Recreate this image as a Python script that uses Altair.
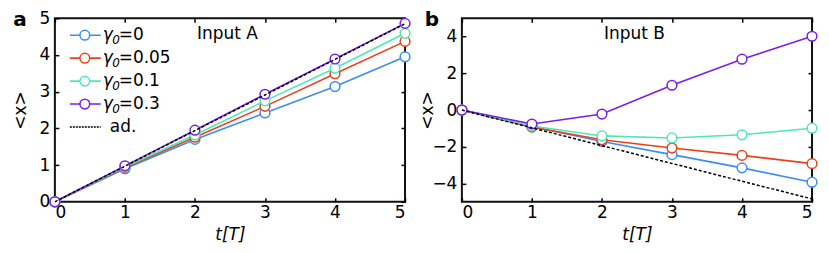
import altair as alt
import pandas as pd

# ---- data ----
t = [0, 1, 2, 3, 4, 5]
series = ["g0", "g005", "g01", "g03"]
series_colors = ["#3d8ef0", "#e8421a", "#4de8b4", "#7a1ee8"]

a_g0 = [0, 0.90, 1.70, 2.42, 3.14, 3.95]
a_g005 = [0, 0.93, 1.76, 2.60, 3.49, 4.37]
a_g01 = [0, 0.95, 1.82, 2.75, 3.64, 4.59]
a_g03 = [0, 0.98, 1.95, 2.93, 3.89, 4.86]
a_ad = [0, 0.97, 1.94, 2.91, 3.88, 4.85]

b_g0 = [0, -0.90, -1.71, -2.43, -3.15, -3.93]
b_g005 = [0, -0.93, -1.62, -2.07, -2.47, -2.92]
b_g01 = [0, -0.87, -1.41, -1.52, -1.35, -0.99]
b_g03 = [0, -0.76, -0.22, 1.35, 2.77, 4.02]
b_ad = [0, -0.97, -1.94, -2.91, -3.88, -4.84]

legend_series = ["g0", "g005", "g01", "g03", "ad"]
legend_rest = ["=0", "=0.05", "=0.1", "=0.3", "ad."]

FONT = "DejaVu Sans"
FS = 17


def long_df(vals):
    rows = []
    for s, v in zip(series, vals):
        for ti, vi in zip(t, v):
            rows.append({"t": ti, "val": vi, "series": s})
    return pd.DataFrame(rows)


color_scale = alt.Scale(domain=legend_series, range=series_colors + ["black"])


def panel(vals, ad, ydomain, yticks, plabel, ilabel, plabel_x, with_legend):
    df = long_df(vals)
    addf = pd.DataFrame({"t": t, "val": ad})
    xs = alt.Scale(domain=[0, 5], nice=False)
    ys = alt.Scale(domain=ydomain, nice=False)

    x_bottom = alt.Axis(orient="bottom", values=t, tickSize=4, offset=-4, domain=False,
                        tickColor="black", tickWidth=1.5, labelFontSize=FS, labelPadding=3,
                        labelFont=FONT, labelColor="black", title="t[T]", titleFont=FONT,
                        titleFontSize=FS, titleFontStyle="italic", titleFontWeight="normal",
                        titleColor="black", titleY=37, titleBaseline="middle", grid=False)
    y_left = alt.Axis(orient="left", values=yticks, tickSize=4, offset=-4, domain=False,
                      tickColor="black", tickWidth=1.5, labelFontSize=FS, labelPadding=5,
                      labelFont=FONT, labelColor="black", title="<x>", titleFont=FONT,
                      titleFontSize=FS, titleFontWeight="normal", titleColor="black",
                      titleX=-38, titleY=92, titleBaseline="middle", grid=False)
    x_top = alt.Axis(orient="top", values=t, tickSize=4, offset=-4, domain=False,
                     tickColor="black", tickWidth=1.5, labels=False, title=None, grid=False)
    y_right = alt.Axis(orient="right", values=yticks, tickSize=4, offset=-4, domain=False,
                       tickColor="black", tickWidth=1.5, labels=False, title=None, grid=False)

    lines = alt.Chart(df).mark_line(strokeWidth=1.6).encode(
        x=alt.X("t:Q", scale=xs, axis=x_bottom),
        y=alt.Y("val:Q", scale=ys, axis=y_left),
        color=alt.Color("series:N", scale=color_scale, legend=None),
        detail="series:N",
    )
    points = alt.Chart(df).mark_point(shape="circle", size=95, filled=False, fill="white",
                                      fillOpacity=1, strokeWidth=1.5, opacity=1).encode(
        x=alt.X("t:Q", scale=xs, axis=x_top),
        y=alt.Y("val:Q", scale=ys, axis=y_right),
        color=alt.Color("series:N", scale=color_scale, legend=None),
    )
    adline = alt.Chart(addf).mark_line(color="black", strokeWidth=1.5, strokeDash=[3, 2]).encode(
        x=alt.X("t:Q", scale=xs, axis=None),
        y=alt.Y("val:Q", scale=ys, axis=None),
    )
    lab = pd.DataFrame({"p": [plabel], "i": [ilabel]})
    ptext = alt.Chart(lab).mark_text(font=FONT, fontSize=20, fontWeight="bold", color="black",
                                     align="center", baseline="middle").encode(
        x=alt.value(plabel_x), y=alt.value(2), text="p:N")
    itext = alt.Chart(lab).mark_text(font=FONT, fontSize=FS, color="black",
                                     align="center", baseline="middle").encode(
        x=alt.value(173), y=alt.value(16), text="i:N")

    layers = [lines, points, adline, ptext, itext]

    if with_legend:
        ldf = pd.DataFrame({"series": legend_series, "rest": legend_rest})
        ly = alt.Y("series:N", sort=legend_series,
                   scale=alt.Scale(type="point", domain=legend_series, range=[17, 109], padding=0),
                   axis=None)
        lrule = alt.Chart(ldf).mark_rule(strokeWidth=1.6).encode(
            x=alt.value(15), x2=alt.value(46), y=ly,
            color=alt.Color("series:N", scale=color_scale, legend=None),
            strokeDash=alt.StrokeDash("series:N", scale=alt.Scale(
                domain=legend_series, range=[[1, 0], [1, 0], [1, 0], [1, 0], [2, 1]]), legend=None),
        )
        lpt = alt.Chart(ldf).transform_filter(alt.datum.series != "ad").mark_point(
            shape="circle", size=95, filled=False, fill="white", fillOpacity=1,
            strokeWidth=1.5, opacity=1).encode(
            x=alt.value(30), y=ly,
            color=alt.Color("series:N", scale=color_scale, legend=None))
        lg = alt.Chart(ldf).transform_filter(alt.datum.series != "ad").mark_text(
            font=FONT, fontSize=FS, fontStyle="italic", color="black", align="left",
            baseline="middle", text="γ").encode(x=alt.value(48), y=ly)
        lsub = alt.Chart(ldf).transform_filter(alt.datum.series != "ad").mark_text(
            font=FONT, fontSize=12, fontStyle="italic", color="black", align="left",
            baseline="middle", dy=5, text="0").encode(x=alt.value(57.5), y=ly)
        lrest = alt.Chart(ldf).transform_filter(alt.datum.series != "ad").mark_text(
            font=FONT, fontSize=FS, color="black", align="left", baseline="middle").encode(
            x=alt.value(64), y=ly, text="rest:N")
        lad = alt.Chart(ldf).transform_filter(alt.datum.series == "ad").mark_text(
            font=FONT, fontSize=FS, color="black", align="left", baseline="middle").encode(
            x=alt.value(55), y=ly, text="rest:N")
        layers += [lrule, lpt, lg, lsub, lrest, lad]

    ch = alt.layer(*layers).properties(width=351, height=184)
    if with_legend:
        ch = ch.resolve_scale(y="independent")
    return ch


pa = panel([a_g0, a_g005, a_g01, a_g03], a_ad, [0, 5], [0, 1, 2, 3, 4, 5], "a", "Input A", -35, True)
pb = panel([b_g0, b_g005, b_g01, b_g03], b_ad, [-5, 5], [-4, -2, 0, 2, 4], "b", "Input B", -30, False)

chart = alt.hconcat(pa, pb, spacing=4).properties(
    padding={"left": 3, "top": 0, "right": 0, "bottom": 0}
).configure(background="white").configure_view(stroke="#111111", strokeWidth=2)

chart.save("out.html", embed_options={"renderer": "svg", "actions": False})
